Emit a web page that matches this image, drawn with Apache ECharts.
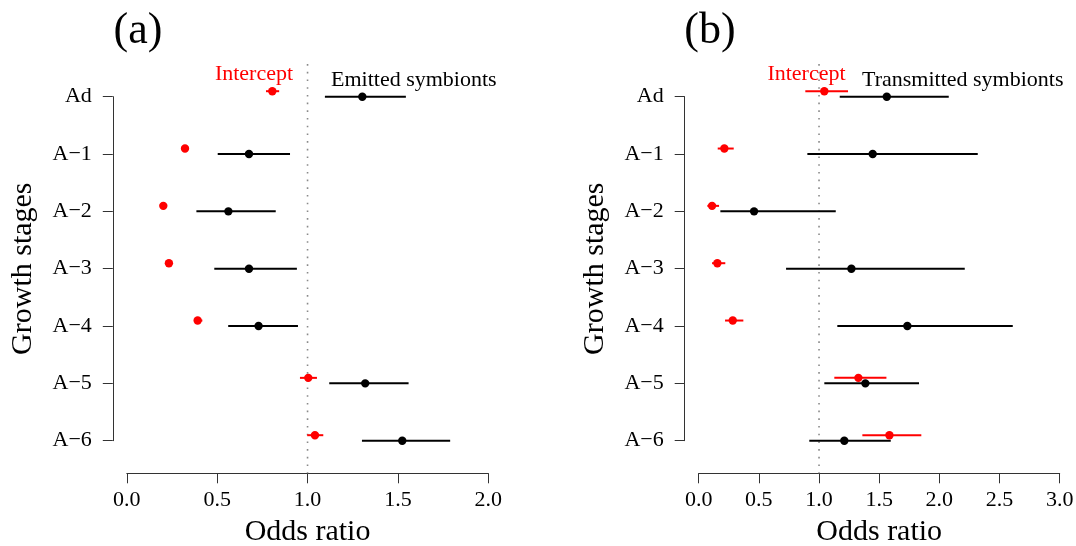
<!DOCTYPE html>
<html>
<head>
<meta charset="utf-8">
<script src="https://cdn.jsdelivr.net/npm/echarts@6/dist/echarts.min.js"></script>
<style>html,body{margin:0;padding:0;background:#fff}#c{width:1076px;height:546px}</style>
</head>
<body>
<div id="c"></div>
<script>
// ---- data ----
const categories = ['Ad', 'A\u22121', 'A\u22122', 'A\u22123', 'A\u22124', 'A\u22125', 'A\u22126'];

// Panel (a): emitted symbionts
const emitEst  = [1.303, 0.676, 0.562, 0.676, 0.729, 1.319, 1.524];
const emitLow  = [1.096, 0.503, 0.385, 0.484, 0.561, 1.120, 1.301];
const emitHigh = [1.544, 0.903, 0.824, 0.941, 0.947, 1.559, 1.789];
const emitIntEst  = [0.805, 0.322, 0.202, 0.233, 0.392, 1.004, 1.041];
const emitIntLow  = [0.770, 0.312, 0.192, 0.223, 0.373, 0.958, 0.998];
const emitIntHigh = [0.843, 0.332, 0.212, 0.243, 0.418, 1.052, 1.087];

// Panel (b): transmitted symbionts
const transEst  = [1.563, 1.446, 0.460, 1.269, 1.734, 1.385, 1.210];
const transLow  = [1.172, 0.903, 0.180, 0.726, 1.152, 1.044, 0.919];
const transHigh = [2.078, 2.319, 1.139, 2.211, 2.610, 1.831, 1.596];
const transIntEst  = [1.044, 0.213, 0.111, 0.155, 0.283, 1.327, 1.585];
const transIntLow  = [0.886, 0.158, 0.072, 0.111, 0.219, 1.127, 1.360];
const transIntHigh = [1.241, 0.291, 0.169, 0.221, 0.371, 1.560, 1.850];

const xMaxA = 2, xMaxB = 3, xStep = 0.5;
const refValue = 1;

// ---- styling ----
const FONT = '"Liberation Serif", "Times New Roman", serif';
const AXIS_COLOR = '#333';
const RED = '#ff0000', BLACK = '#000000';
const RED_DY = -5.5;
const REF_EXT = 32.6;

function intervalSeries(idx, est, low, high, color, dy, z) {
  return {
    type: 'custom', xAxisIndex: idx, yAxisIndex: idx, z: z, clip: false, silent: true,
    data: est.map((v, i) => [v, i, low[i], high[i]]),
    encode: { x: [0, 2, 3], y: 1 },
    renderItem(params, api) {
      const yi = api.value(1);
      const p = api.coord([api.value(0), yi]);
      const l = api.coord([api.value(2), yi]);
      const h = api.coord([api.value(3), yi]);
      const y = p[1] + dy;
      return {
        type: 'group',
        children: [
          { type: 'line', shape: { x1: l[0], y1: y, x2: h[0], y2: y }, style: { stroke: color, lineWidth: 2 } },
          { type: 'circle', shape: { cx: p[0], cy: y, r: 4.2 }, style: { fill: color } }
        ]
      };
    }
  };
}

function refLine(idx) {
  return {
    type: 'custom', xAxisIndex: idx, yAxisIndex: idx, z: 1, clip: false, silent: true,
    data: [[refValue, 0]],
    renderItem(params, api) {
      const a = api.coord([api.value(0), 0]);
      const b = api.coord([api.value(0), categories.length - 1]);
      const top = Math.min(a[1], b[1]) - REF_EXT;
      const bot = Math.max(a[1], b[1]) + REF_EXT;
      return { type: 'line', shape: { x1: a[0], y1: top, x2: a[0], y2: bot },
               style: { stroke: '#8a8a8a', lineWidth: 1.6, lineDash: [1.6, 6.1] } };
    }
  };
}

function xAxis(idx, max) {
  return {
    type: 'value', gridIndex: idx, min: 0, max: max, interval: xStep, offset: 32.6,
    axisLine: { show: true, onZero: false, lineStyle: { color: AXIS_COLOR, width: 1 } },
    axisTick: { show: true, length: 10, lineStyle: { color: AXIS_COLOR, width: 1 } },
    axisLabel: { fontSize: 22, color: '#000', margin: 16, fontFamily: FONT,
                 showMinLabel: true, showMaxLabel: true, formatter: v => v.toFixed(1) },
    splitLine: { show: false },
    name: 'Odds ratio', nameLocation: 'middle', nameGap: 44,
    nameTextStyle: { fontSize: 30, color: '#000', fontFamily: FONT }
  };
}

function yAxis(idx) {
  return {
    type: 'category', gridIndex: idx, data: categories, inverse: true, boundaryGap: false, offset: 14,
    axisLine: { show: true, onZero: false, lineStyle: { color: AXIS_COLOR, width: 1 } },
    axisTick: { show: true, length: 10, interval: 0, lineStyle: { color: AXIS_COLOR, width: 1 } },
    axisLabel: { interval: 0, fontSize: 22, color: '#000', margin: 21, fontFamily: FONT },
    splitLine: { show: false },
    name: 'Growth stages', nameLocation: 'middle', nameGap: 75, nameRotate: 90,
    nameTextStyle: { fontSize: 30, color: '#000', fontFamily: FONT }
  };
}

function txt(x, y, text, size, color, align, va) {
  return { type: 'text', x: x, y: y, z: 10, silent: true,
           style: { text: text, fontSize: size, fontFamily: FONT, fill: color,
                    align: align || 'center', verticalAlign: va || 'middle' } };
}

const chart = echarts.init(document.getElementById('c'), null, { renderer: 'canvas' });
chart.setOption({
  animation: false,
  backgroundColor: '#fff',
  textStyle: { fontFamily: FONT },
  grid: [
    { left: 126.8, top: 96.7, width: 361.5, height: 344, containLabel: false, outerBoundsMode: 'none' },
    { left: 698.7, top: 96.7, width: 361, height: 344, containLabel: false, outerBoundsMode: 'none' }
  ],
  xAxis: [xAxis(0, xMaxA), xAxis(1, xMaxB)],
  yAxis: [yAxis(0), yAxis(1)],
  series: [
    refLine(0),
    intervalSeries(0, emitIntEst, emitIntLow, emitIntHigh, RED, RED_DY, 3),
    intervalSeries(0, emitEst, emitLow, emitHigh, BLACK, 0, 4),
    refLine(1),
    intervalSeries(1, transEst, transLow, transHigh, BLACK, 0, 3),
    intervalSeries(1, transIntEst, transIntLow, transIntHigh, RED, RED_DY, 4)
  ],
  graphic: [
    txt(138, 31, '(a)', 44, '#000'),
    txt(254, 74, 'Intercept', 22, RED),
    txt(331, 80, 'Emitted symbionts', 22, '#000', 'left'),
    txt(710, 31, '(b)', 44, '#000'),
    txt(806.5, 74.5, 'Intercept', 22, RED),
    txt(862, 80, 'Transmitted symbionts', 22, '#000', 'left')
  ]
});
</script>
</body>
</html>
